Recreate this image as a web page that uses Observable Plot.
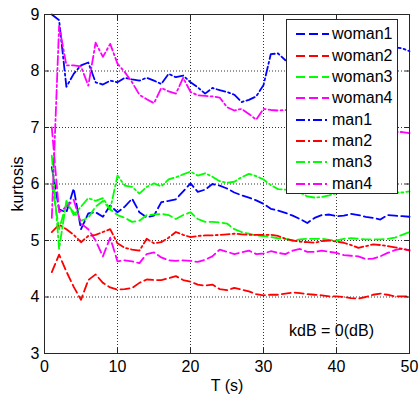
<!DOCTYPE html>
<html>
<head>
<meta charset="utf-8">
<script src="https://cdn.jsdelivr.net/npm/d3@7"></script>
<script src="https://cdn.jsdelivr.net/npm/@observablehq/plot@0.6"></script>
<style>
  html, body { margin: 0; padding: 0; background: white; }
  #wrap { position: relative; width: 419px; height: 396px; font-family: "Liberation Sans", Arial, sans-serif; }
  #legend { position: absolute; left: 286px; top: 19px; width: 110px; height: 173px; background: white; border: 1px solid #262626; }
  .row { position: absolute; left: 0; height: 20px; display: flex; align-items: center; font-size: 16px; color: #000; }
  .row svg { margin-left: 9px; margin-right: 3px; }
</style>
</head>
<body>
<div id="wrap"></div>
<script>
const T = [1,2,3,4,5,6,7,8,9,10,11,12,13,14,15,16,17,18,19,20,21,22,23,24,25,26,27,28,29,30,31,32,33,34,35,36,37,38,39,40,41,42,43,44,45,46,47,48,49,50];

const woman1 = [6.3,5.55,5.5,5.92,5.2,5.48,5.5,5.42,5.62,5.5, 5.6,5.74,5.5,5.41,5.44,5.68,5.7,5.73,5.87,6.01, 5.86,5.9,6.0,5.97,5.92,5.85,5.8,5.76,5.71,5.65, 5.56,5.53,5.49,5.44,5.38,5.31,5.4,5.45,5.46,5.43, 5.44,5.47,5.45,5.42,5.4,5.37,5.45,5.44,5.43,5.42];
const woman2 = [4.44,4.75,4.45,4.18,3.95,4.3,4.4,4.25,4.17,4.13, 4.14,4.16,4.25,4.31,4.3,4.3,4.33,4.37,4.3,4.27, 4.22,4.2,4.22,4.14,4.12,4.16,4.13,4.1,4.05,4.03, 4.04,4.04,4.06,4.08,4.07,4.05,4.04,4.03,4.01,4.01, 4.0,3.98,3.97,4.0,4.04,4.06,4.04,4.01,4.01,4.01];
const woman3 = [6.0,5.2,5.65,5.5,5.35,5.4,5.6,5.7,5.55,5.45, 5.4,5.33,5.35,5.45,5.46,5.47,5.45,5.38,5.45,5.5, 5.38,5.33,5.33,5.32,5.3,5.2,5.15,5.12,5.09,5.08, 5.06,5.04,5.03,5.0,5.02,5.03,5.03,5.03,5.01,5.0, 5.03,5.04,5.03,5.02,5.02,5.02,5.03,5.05,5.1,5.15];
const woman4 = [7.0,5.5,5.6,5.72,5.3,5.2,5.0,4.72,5.05,4.63, 4.65,4.63,4.6,4.76,4.79,4.7,4.65,4.64,4.65,4.64, 4.62,4.66,4.72,4.84,4.8,4.76,4.79,4.82,4.76,4.77, 4.81,4.78,4.76,4.82,4.85,4.8,4.8,4.82,4.8,4.78, 4.74,4.73,4.72,4.67,4.68,4.72,4.78,4.83,4.86,4.82];
const man1 = [9.0,8.9,7.72,7.95,8.1,8.15,7.8,7.76,7.83,7.8, 7.88,7.85,7.83,7.88,7.83,7.77,7.95,7.89,7.92,7.8, 7.71,7.6,7.7,7.66,7.63,7.58,7.45,7.49,7.55,7.75, 8.3,8.31,8.19,8.15,8.2,8.25,8.2,8.3,8.35,8.3, 8.3,8.35,8.4,8.35,8.4,8.38,8.4,8.42,8.4,8.35];
const man2 = [5.15,5.28,5.2,5.1,4.97,5.08,5.1,5.15,5.2,4.95, 4.87,4.84,4.82,5.03,4.95,4.97,5.05,5.15,5.1,5.06, 5.08,5.09,5.09,5.1,5.11,5.12,5.11,5.1,5.1,5.1, 5.1,5.08,5.03,5.0,4.98,4.97,4.96,4.99,5.0,4.98, 4.96,4.92,4.87,4.9,4.93,4.92,4.9,4.88,4.85,4.83];
const man3 = [6.5,4.85,5.7,5.45,5.6,5.75,5.7,5.75,5.55,6.15, 5.97,5.95,5.83,5.95,6.01,5.96,6.08,6.12,6.17,6.22, 6.15,6.19,6.13,6.05,6.02,6.04,6.12,6.18,6.14,6.08, 5.98,5.91,5.9,5.88,5.85,5.78,5.76,5.77,5.8,5.84, 5.86,5.85,5.87,5.86,5.88,5.87,5.86,5.85,5.85,5.87];
const man4 = [5.4,8.8,8.1,8.1,8.08,7.74,8.5,8.25,8.48,8.13, 7.98,7.8,7.58,7.5,7.43,7.7,7.64,7.6,7.88,7.63, 7.57,7.56,7.55,7.53,7.36,7.3,7.33,7.24,7.14,7.33, 7.31,7.3,7.31,7.25,7.2,7.15,7.1,7.1,7.05,7.0, 7.0,6.98,6.95,6.95,6.93,6.92,6.92,6.92,6.92,6.9];

const seriesNames = ["woman1","woman2","woman3","woman4","man1","man2","man3","man4"];
const seriesValues = [woman1, woman2, woman3, woman4, man1, man2, man3, man4];
const seriesColors = ["#0000ff","#ff0000","#00ff00","#ff00ff","#0000ff","#ff0000","#00ff00","#ff00ff"];
const dashed = "9,4";
const dashDot = "9,3,2,3";
const seriesDash = [dashed, dashed, dashed, dashed, dashDot, dashDot, dashDot, dashDot];

const xTicks = [0,10,20,30,40,50];
const yTicks = [3,4,5,6,7,8,9];
const xGrid = [10,20,30,40];
const yGrid = [4,5,6,7,8];
const xLabel = "T (s)";
const yLabel = "kurtosis";
const note = "kdB = 0(dB)";

const lineMarks = seriesNames.map((name, i) =>
  Plot.line(T.map((t, j) => ({t, v: seriesValues[i][j]})), {
    x: "t", y: "v",
    stroke: seriesColors[i],
    strokeWidth: 1.8,
    strokeDasharray: seriesDash[i],
    strokeLinejoin: "round"
  })
);

const chart = Plot.plot({
  width: 419,
  height: 396,
  marginLeft: 44,
  marginRight: 10,
  marginTop: 14,
  marginBottom: 43,
  style: { fontFamily: "'Liberation Sans', Arial, sans-serif", fontSize: "16px", background: "white", color: "#000" },
  x: { domain: [0, 50] },
  y: { domain: [3, 9] },
  marks: [
    Plot.gridX(xGrid, { stroke: "#000", strokeOpacity: 0.8, strokeDasharray: "1,2" }),
    Plot.gridY(yGrid, { stroke: "#000", strokeOpacity: 0.8, strokeDasharray: "1,2" }),
    ...lineMarks,
    Plot.axisX(xTicks, { anchor: "bottom", tickSize: 0, tickPadding: 7, tickFormat: d3.format("d"), label: null, fontSize: 16 }),
    Plot.axisY(yTicks, { anchor: "left", tickSize: 0, tickPadding: 5, tickFormat: d3.format("d"), label: null, fontSize: 16 }),
    Plot.axisX(xTicks, { anchor: "bottom", tickSize: -5, tickFormat: () => "", label: null, stroke: "#262626" }),
    Plot.axisX(xTicks, { anchor: "top", tickSize: -5, tickFormat: () => "", label: null, stroke: "#262626" }),
    Plot.axisY(yTicks, { anchor: "left", tickSize: -5, tickFormat: () => "", label: null, stroke: "#262626" }),
    Plot.axisY(yTicks, { anchor: "right", tickSize: -5, tickFormat: () => "", label: null, stroke: "#262626" }),
    Plot.frame({ stroke: "#262626", strokeWidth: 1 }),
    Plot.text([xLabel], { frameAnchor: "bottom", dy: 32, lineAnchor: "middle", text: d => d, fontSize: 16 }),
    Plot.text([yLabel], { frameAnchor: "left", dx: -27, rotate: -90, lineAnchor: "middle", textAnchor: "middle", text: d => d, fontSize: 16 }),
    Plot.text([note], { frameAnchor: "bottom-right", dx: -78, dy: -23, textAnchor: "middle", lineAnchor: "middle", text: d => d, fontSize: 16 })
  ]
});

const wrap = document.getElementById("wrap");
wrap.appendChild(chart);

const legend = document.createElement("div");
legend.id = "legend";
seriesNames.forEach((name, i) => {
  const row = document.createElement("div");
  row.className = "row";
  row.style.top = (4.3 + 21.34 * i) + "px";
  row.innerHTML = `<svg width="33" height="6"><line x1="0" y1="3" x2="33" y2="3" stroke="${seriesColors[i]}" stroke-width="1.8" stroke-dasharray="${seriesDash[i]}"/></svg><span>${name}</span>`;
  legend.appendChild(row);
});
wrap.appendChild(legend);
</script>
</body>
</html>
